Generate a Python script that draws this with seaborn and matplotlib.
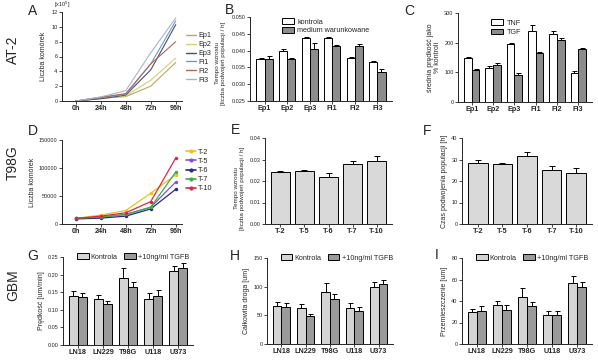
import numpy as np
import pandas as pd
import seaborn as sns
import matplotlib.pyplot as plt
from matplotlib.patches import Patch
from matplotlib.lines import Line2D

sns.set_theme(style="ticks")
plt.rcParams['font.family'] = ['Liberation Sans', 'DejaVu Sans']

W, H = 598, 363

# ---- data ----
hours = ["0h", "24h", "48h", "72h", "96h"]

at2_lines = ["Ep1", "Ep2", "Ep3", "Fi1", "Fi2", "Fi3"]
at2_counts = {  # x10^5
    "Ep1": [0.0, 0.35, 0.6, 2.0, 5.2],
    "Ep2": [0.0, 0.4, 0.7, 2.8, 5.8],
    "Ep3": [0.0, 0.3, 0.8, 4.2, 10.3],
    "Fi1": [0.0, 0.45, 0.9, 5.0, 10.8],
    "Fi2": [0.0, 0.5, 1.0, 5.0, 8.0],
    "Fi3": [0.0, 0.55, 1.4, 6.5, 11.2],
}
at2_colors = ["#b8a860", "#d2cf7a", "#4a5068", "#6e9cc8", "#a86a5a", "#a8b4c8"]

b_kontrola = [0.0375, 0.0400, 0.0438, 0.0437, 0.0378, 0.0365]
b_kontrola_err = [0.0002, 0.0004, 0.0002, 0.0003, 0.0002, 0.0004]
b_medium = [0.0375, 0.0375, 0.0405, 0.0415, 0.0415, 0.0335]
b_medium_err = [0.0010, 0.0004, 0.0018, 0.0003, 0.0005, 0.0010]

c_tnf = [147, 113, 195, 240, 230, 97]
c_tnf_err = [5, 10, 5, 18, 8, 8]
c_tgf = [107, 125, 90, 165, 208, 177]
c_tgf_err = [3, 5, 7, 5, 7, 5]

t98_lines = ["T-2", "T-5", "T-6", "T-7", "T-10"]
t98_counts = {
    "T-2": [10000, 16000, 24000, 55000, 88000],
    "T-5": [10000, 12000, 17000, 30000, 75000],
    "T-6": [9000, 10500, 14000, 27000, 62000],
    "T-7": [10000, 12500, 17000, 30000, 93000],
    "T-10": [10000, 14000, 20000, 40000, 118000],
}
t98_colors = ["#f0c020", "#8a4fd0", "#2a2a80", "#3cb043", "#d8284a"]

e_rate = [0.0243, 0.0248, 0.0220, 0.0278, 0.0293]
e_err = [0.0003, 0.0005, 0.0017, 0.0015, 0.0022]

f_time = [28.5, 27.8, 31.5, 25.0, 23.7]
f_err = [1.5, 0.7, 2.0, 2.0, 2.5]

gbm_lines = ["LN18", "LN229", "T98G", "U118", "U373"]
g_k = [0.140, 0.130, 0.190, 0.130, 0.210]
g_k_err = [0.013, 0.013, 0.030, 0.017, 0.015]
g_t = [0.135, 0.117, 0.165, 0.140, 0.218]
g_t_err = [0.012, 0.008, 0.015, 0.015, 0.015]

h_k = [67, 63, 91, 63, 100]
h_k_err = [6, 7, 15, 8, 8]
h_t = [65, 48, 79, 58, 104]
h_t_err = [6, 4, 8, 7, 8]

i_k = [30, 36, 44, 27, 57]
i_k_err = [3, 4, 8, 4, 6]
i_t = [31, 32, 35, 27, 53]
i_t_err = [4, 4, 4, 4, 5]

fig = plt.figure(figsize=(W / 100, H / 100), dpi=100)

YLAB = 5
YTICK = 4
XTICK = 5.2
LEG = 5.2


def px_axes(x0, y0, x1, y1):
    return fig.add_axes([x0 / W, 1 - y1 / H, (x1 - x0) / W, (y1 - y0) / H])


def style(ax):
    sns.despine(ax=ax)
    for s in ["left", "bottom"]:
        ax.spines[s].set_linewidth(0.7)
    ax.tick_params(axis="both", length=2, width=0.6, pad=1.2)
    ax.tick_params(axis="y", labelsize=YTICK)
    ax.tick_params(axis="x", labelsize=XTICK)
    for t in ax.get_xticklabels():
        t.set_fontweight("bold")
    ax.set_xlabel("")


def grouped_bars(ax, cats, names, vals, errs, colors):
    df = pd.DataFrame({
        "cat": np.repeat([cats], len(names), axis=0).ravel(),
        "grp": np.repeat(names, len(cats)),
        "val": np.concatenate(vals),
    })
    sns.barplot(data=df, x="cat", y="val", hue="grp", hue_order=names,
                palette=colors, edgecolor="black", linewidth=0.7,
                width=0.72, errorbar=None, ax=ax, legend=False)
    for cont, err in zip(ax.containers, errs):
        xs = [p.get_x() + p.get_width() / 2 for p in cont.patches]
        ys = [p.get_height() for p in cont.patches]
        ax.errorbar(xs, ys, yerr=[np.zeros(len(err)), err], fmt="none",
                    ecolor="black", elinewidth=0.7, capsize=1.8, capthick=0.7)
    handles = [Patch(facecolor=c, edgecolor="black", linewidth=0.7) for c in colors]
    return handles


def single_bars(ax, cats, vals, errs):
    df = pd.DataFrame({"cat": cats, "val": vals})
    sns.barplot(data=df, x="cat", y="val", color="#d9d9d9", edgecolor="black",
                linewidth=0.7, width=0.8, errorbar=None, ax=ax)
    cont = ax.containers[0]
    xs = [p.get_x() + p.get_width() / 2 for p in cont.patches]
    ax.errorbar(xs, vals, yerr=[np.zeros(len(errs)), errs], fmt="none",
                ecolor="black", elinewidth=0.7, capsize=2.2, capthick=0.7)


# ---- row labels and panel letters ----
for txt, y in [("AT-2", 50), ("T98G", 163), ("GBM", 285)]:
    fig.text(13 / W, 1 - y / H, txt, rotation=90, fontsize=10, ha="center", va="center")
for txt, x, y in [("A", 33, 11), ("B", 229, 10), ("C", 409, 11),
                  ("D", 33, 131), ("E", 236, 130), ("F", 427, 131),
                  ("G", 33, 256), ("H", 235, 256), ("I", 437, 255)]:
    fig.text(x / W, 1 - y / H, txt, fontsize=10, ha="center", va="center")

# ---- A ----
ax = px_axes(62, 12, 182, 101)
df_a = pd.DataFrame([(n, i, v) for n in at2_lines for i, v in enumerate(at2_counts[n])],
                    columns=["linia", "t", "n"])
sns.lineplot(data=df_a, x="t", y="n", hue="linia", hue_order=at2_lines,
             palette=at2_colors, linewidth=0.8, ax=ax, legend=False)
ax.set_xlim(-0.55, 4.25)
ax.set_ylim(0, 12)
ax.set_yticks(range(0, 13, 2))
ax.set_xticks(range(5))
ax.set_xticklabels(hours)
ax.set_ylabel("Liczba komórek", fontsize=YLAB, labelpad=3)
ax.text(0, 1.02, "[x10$^5$]", transform=ax.transAxes, fontsize=4, ha="center", va="bottom")
style(ax)
ax.legend([Line2D([], [], color=c, lw=1) for c in at2_colors], at2_lines,
          loc="upper left", bbox_to_anchor=(1.0, 0.82), frameon=False,
          fontsize=LEG, handlelength=1.3, handletextpad=0.3, labelspacing=0.25,
          borderaxespad=0.2)

# ---- B ----
ax = px_axes(250, 17, 392, 101)
hs = grouped_bars(ax, at2_lines, ["kontrola", "medium warunkowane"],
                  [b_kontrola, b_medium], [b_kontrola_err, b_medium_err],
                  ["white", "#8c8c8c"])
ax.set_ylim(0.025, 0.050)
ax.set_yticks(np.arange(0.025, 0.0501, 0.005))
ax.set_yticklabels([f"{v:.3f}" for v in np.arange(0.025, 0.0501, 0.005)])
ax.set_ylabel("Tempo wzrostu\n[liczba podwojeń populacji / h]", fontsize=4.5, labelpad=2,
              linespacing=1.1)
ax.yaxis.set_label_coords(-0.17, 0.45)
style(ax)
ax.legend(hs, ["kontrola", "medium warunkowane"], loc="upper left",
          bbox_to_anchor=(0.18, 1.06), frameon=False, fontsize=LEG,
          handlelength=1.6, handleheight=0.8, handletextpad=0.5, labelspacing=0.2)

# ---- C ----
ax = px_axes(458, 13, 592, 102)
hs = grouped_bars(ax, at2_lines, ["TNF", "TGF"], [c_tnf, c_tgf],
                  [c_tnf_err, c_tgf_err], ["white", "#8c8c8c"])
ax.set_ylim(0, 300)
ax.set_yticks([0, 100, 200, 300])
ax.set_ylabel("średnia prędkość jako\n% kontroli", fontsize=YLAB, labelpad=2,
              linespacing=1.1)
style(ax)
ax.legend(hs, ["TNF", "TGF"], loc="upper left", bbox_to_anchor=(0.2, 1.0),
          frameon=False, fontsize=LEG, handlelength=1.6, handleheight=0.8,
          handletextpad=0.5, labelspacing=0.3)

# ---- D ----
ax = px_axes(62, 140, 182, 224)
df_d = pd.DataFrame([(n, i, v) for n in t98_lines for i, v in enumerate(t98_counts[n])],
                    columns=["linia", "t", "n"])
sns.lineplot(data=df_d, x="t", y="n", hue="linia", hue_order=t98_lines,
             palette=t98_colors, linewidth=0.9, marker="o", markersize=2.5,
             markeredgewidth=0, ax=ax, legend=False)
ax.set_xlim(-0.55, 4.25)
ax.set_ylim(0, 150000)
ax.set_yticks([0, 50000, 100000, 150000])
ax.set_yticklabels(["0", "50000", "100000", "150000"])
ax.set_xticks(range(5))
ax.set_xticklabels(hours)
ax.set_ylabel("Liczba komórek", fontsize=YLAB, labelpad=2)
style(ax)
ax.legend([Line2D([], [], color=c, lw=1.2, marker="o", markersize=2) for c in t98_colors],
          t98_lines, loc="upper left", bbox_to_anchor=(1.0, 0.95), frameon=False,
          fontsize=LEG, handlelength=1.3, handletextpad=0.3, labelspacing=0.3,
          borderaxespad=0.2)

# ---- E ----
ax = px_axes(265, 138, 392, 224)
single_bars(ax, t98_lines, e_rate, e_err)
ax.set_ylim(0, 0.04)
ax.set_yticks([0, 0.01, 0.02, 0.03, 0.04])
ax.set_yticklabels(["0.00", "0.01", "0.02", "0.03", "0.04"])
ax.set_ylabel("Tempo wzrostu\n[liczba podwojeń populacji / h]", fontsize=4.5, labelpad=2,
              linespacing=1.1)
ax.yaxis.set_label_coords(-0.16, 0.42)
style(ax)

# ---- F ----
ax = px_axes(462, 138, 592, 224)
single_bars(ax, t98_lines, f_time, f_err)
ax.set_ylim(0, 40)
ax.set_yticks([0, 10, 20, 30, 40])
ax.set_ylabel("Czas podwojenia populacji [h]", fontsize=YLAB, labelpad=2)
style(ax)

# ---- G, H, I ----
gbm_names = ["Kontrola", "+10ng/ml TGFB"]
gbm_colors = ["#d4d4d4", "#9a9a9a"]
panels = [
    (63, 257, 193, 345, [g_k, g_t], [g_k_err, g_t_err], (0, 0.25),
     np.arange(0, 0.2501, 0.05), "Prędkość [um/min]", True),
    (267, 258, 393, 344, [h_k, h_t], [h_k_err, h_t_err], (0, 150),
     [0, 50, 100, 150], "Całkowita droga [um]", False),
    (462, 258, 592, 344, [i_k, i_t], [i_k_err, i_t_err], (0, 80),
     [0, 20, 40, 60, 80], "Przemieszczenie [um]", False),
]
for x0, y0, x1, y1, vals, errs, ylim, yt, ylab, fmt2 in panels:
    ax = px_axes(x0, y0, x1, y1)
    hs = grouped_bars(ax, gbm_lines, gbm_names, vals, errs, gbm_colors)
    ax.set_ylim(*ylim)
    ax.set_yticks(yt)
    if fmt2:
        ax.set_yticklabels([f"{v:.2f}" for v in yt])
    ax.set_ylabel(ylab, fontsize=YLAB, labelpad=2)
    style(ax)
    ax.legend(hs, gbm_names, loc="center left", bbox_to_anchor=(0.08, 1.0), ncol=2,
              frameon=False, fontsize=LEG, handlelength=1.6, handleheight=0.7,
              handletextpad=0.3, columnspacing=0.9, borderaxespad=0.1)

fig.savefig("out.png", dpi=100, facecolor="white")
